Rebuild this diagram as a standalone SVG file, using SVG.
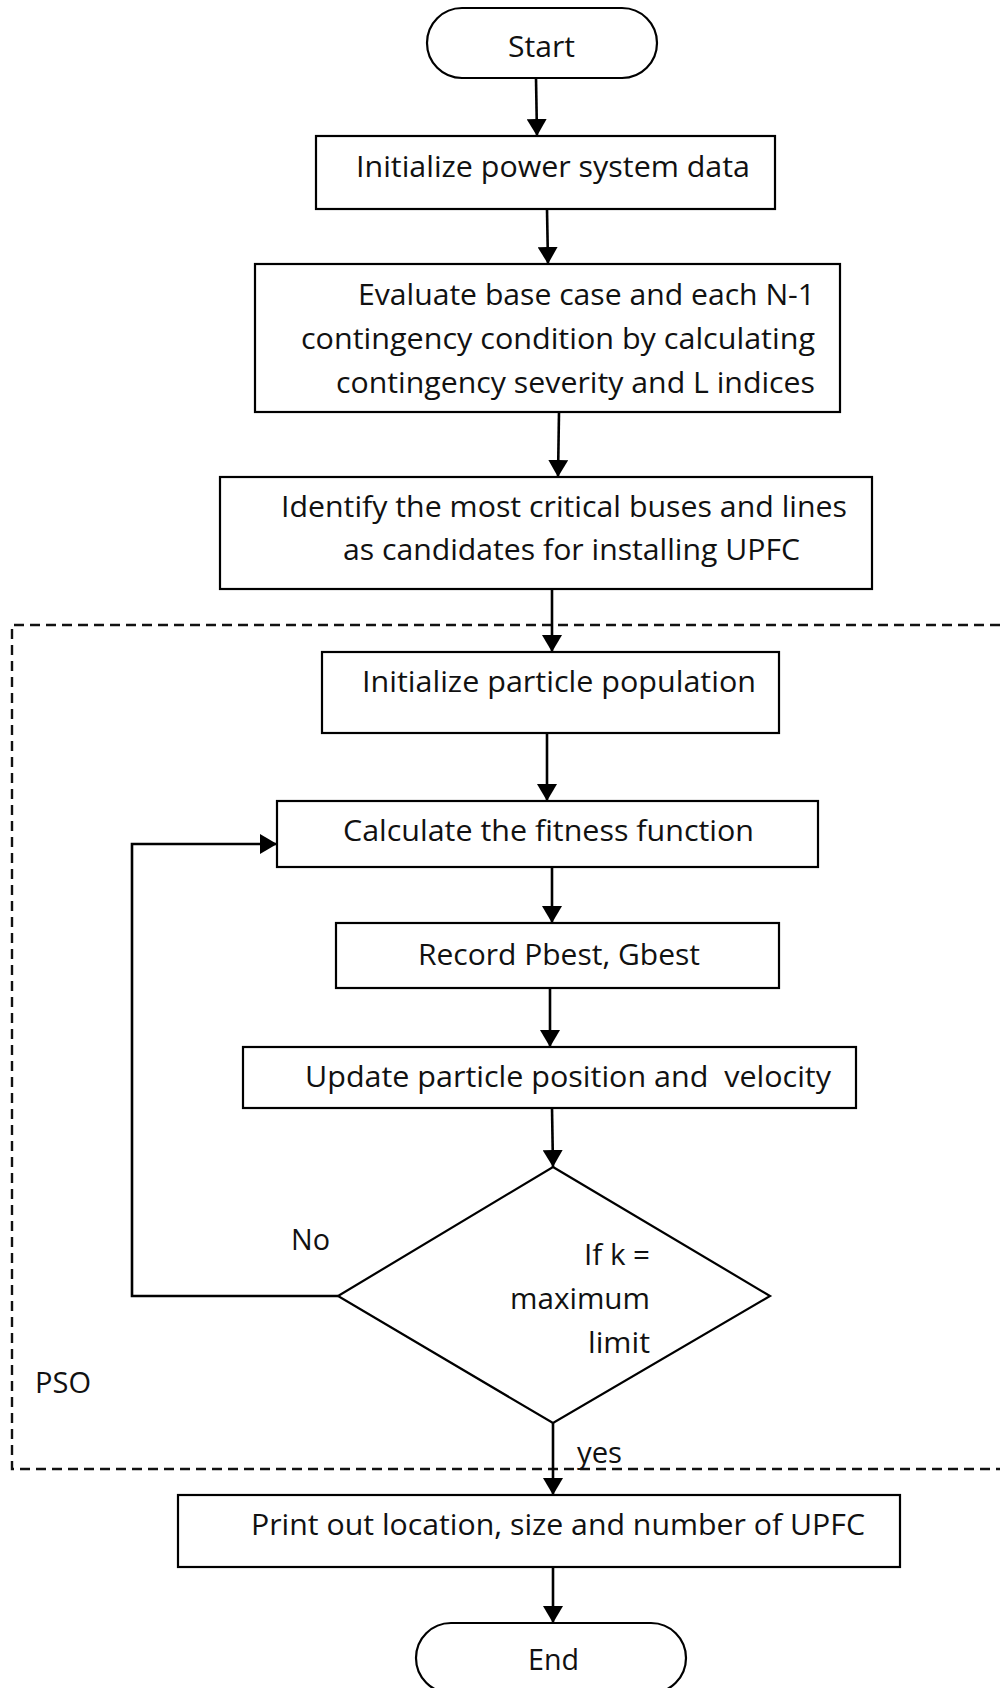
<svg xmlns="http://www.w3.org/2000/svg" width="1000" height="1688" viewBox="0 0 1000 1688">
<defs>
<marker id="ah" markerUnits="userSpaceOnUse" markerWidth="18" markerHeight="20" refX="17" refY="10" orient="auto">
<path d="M0,0 L17,10 L0,20 z" fill="#000"/>
</marker>
<style>
.box{fill:#fff;stroke:#000;stroke-width:2.2}
.t{font-family:"Open Sans","Noto Sans",sans-serif;font-size:30px;fill:#111}
.c{fill:none;stroke:#000;stroke-width:2.6}
.dash{fill:none;stroke:#111;stroke-width:2.4;stroke-dasharray:10 6}
</style>
</defs>
<rect width="1000" height="1688" fill="#fff"/>
<g id="pso-region">
<path class="dash" d="M1000,625 H12 V1469 H1000"/>
<text class="t" x="35" y="1393" textLength="56" lengthAdjust="spacingAndGlyphs">PSO</text>
</g>
<g id="start">
<rect class="box" x="427" y="8" width="230" height="70" rx="35"/>
<text class="t" x="508" y="57" textLength="67" lengthAdjust="spacingAndGlyphs">Start</text>
</g>
<g id="init-data">
<rect class="box" x="316" y="136" width="459" height="73"/>
<text class="t" x="356" y="177" textLength="394" lengthAdjust="spacingAndGlyphs">Initialize power system data</text>
</g>
<g id="evaluate">
<rect class="box" x="255" y="264" width="585" height="148"/>
<text class="t" x="358" y="305" textLength="457" lengthAdjust="spacingAndGlyphs">Evaluate base case and each N-1</text>
<text class="t" x="301" y="349" textLength="514" lengthAdjust="spacingAndGlyphs">contingency condition by calculating</text>
<text class="t" x="336" y="393" textLength="479" lengthAdjust="spacingAndGlyphs">contingency severity and L indices</text>
</g>
<g id="identify">
<rect class="box" x="220" y="477" width="652" height="112"/>
<text class="t" x="281" y="517" textLength="566" lengthAdjust="spacingAndGlyphs">Identify the most critical buses and lines</text>
<text class="t" x="343" y="560" textLength="457" lengthAdjust="spacingAndGlyphs">as candidates for installing UPFC</text>
</g>
<g id="init-particles">
<rect class="box" x="322" y="652" width="457" height="81"/>
<text class="t" x="362" y="692" textLength="394" lengthAdjust="spacingAndGlyphs">Initialize particle population</text>
</g>
<g id="fitness">
<rect class="box" x="277" y="801" width="541" height="66"/>
<text class="t" x="343" y="841" textLength="411" lengthAdjust="spacingAndGlyphs">Calculate the fitness function</text>
</g>
<g id="record">
<rect class="box" x="336" y="923" width="443" height="65"/>
<text class="t" x="418" y="965" textLength="282" lengthAdjust="spacingAndGlyphs">Record Pbest, Gbest</text>
</g>
<g id="update">
<rect class="box" x="243" y="1047" width="613" height="61"/>
<text class="t" x="305" y="1087" textLength="526" lengthAdjust="spacingAndGlyphs" style="white-space:pre" xml:space="preserve">Update particle position and  velocity</text>
</g>
<g id="decision">
<polygon class="box" points="553,1167 770,1296 553,1423 338,1296"/>
<text class="t" x="584" y="1265" textLength="66" lengthAdjust="spacingAndGlyphs">If k =</text>
<text class="t" x="510" y="1309" textLength="140" lengthAdjust="spacingAndGlyphs">maximum</text>
<text class="t" x="588" y="1353" textLength="62" lengthAdjust="spacingAndGlyphs">limit</text>
</g>
<g id="print">
<rect class="box" x="178" y="1495" width="722" height="72"/>
<text class="t" x="251" y="1535" textLength="614" lengthAdjust="spacingAndGlyphs">Print out location, size and number of UPFC</text>
</g>
<g id="end">
<rect class="box" x="416" y="1623" width="270" height="70" rx="35"/>
<text class="t" x="528" y="1670" textLength="51" lengthAdjust="spacingAndGlyphs">End</text>
</g>
<g id="connectors">
<line class="c" x1="536" y1="78" x2="537" y2="136" marker-end="url(#ah)"/>
<line class="c" x1="547" y1="209" x2="548" y2="264" marker-end="url(#ah)"/>
<line class="c" x1="559" y1="412" x2="558" y2="477" marker-end="url(#ah)"/>
<line class="c" x1="552" y1="589" x2="552" y2="652" marker-end="url(#ah)"/>
<line class="c" x1="547" y1="733" x2="547" y2="801" marker-end="url(#ah)"/>
<line class="c" x1="552" y1="867" x2="552" y2="923" marker-end="url(#ah)"/>
<line class="c" x1="550" y1="988" x2="550" y2="1047" marker-end="url(#ah)"/>
<line class="c" x1="552" y1="1108" x2="553" y2="1167" marker-end="url(#ah)"/>
<line class="c" x1="553" y1="1423" x2="553" y2="1495" marker-end="url(#ah)"/>
<line class="c" x1="553" y1="1567" x2="553" y2="1623" marker-end="url(#ah)"/>
<polyline class="c" points="338,1296 132,1296 132,844 277,844" marker-end="url(#ah)"/>
<text class="t" x="291" y="1250" textLength="39" lengthAdjust="spacingAndGlyphs">No</text>
<text class="t" x="577" y="1463" textLength="45" lengthAdjust="spacingAndGlyphs">yes</text>
</g>
</svg>
